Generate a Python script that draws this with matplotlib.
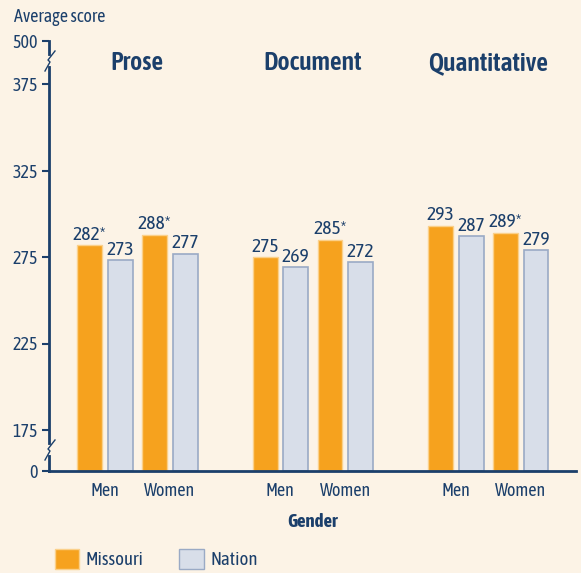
import numpy as np
import matplotlib
matplotlib.use("Agg")
import matplotlib.pyplot as plt
from matplotlib.patches import Patch
from matplotlib.lines import Line2D

# Data
subjects = ["Prose", "Document", "Quantitative"]
genders = ["Men", "Women"]
missouri = [[282, 288], [275, 285], [293, 289]]
nation = [[273, 277], [269, 272], [287, 279]]
missouri_labels = [["282*", "288*"], ["275", "285*"], ["293", "289*"]]
nation_labels = [["273", "277"], ["269", "272"], ["287", "279"]]
y_ticks = [0, 175, 225, 275, 325, 375, 500]

BG = "#FCF3E6"
NAVY = "#1B3F6B"
ORANGE = "#F6A21E"
ORANGE_EDGE = "#FBD08A"
GREY = "#D8DEE9"
GREY_EDGE = "#9AAAC5"

plt.rcParams.update({
    "font.family": ["Asap Condensed", "DejaVu Sans"],
    "text.color": NAVY,
    "axes.labelcolor": NAVY,
    "xtick.color": NAVY,
    "ytick.color": NAVY,
})

# broken y axis: piecewise linear scale
brk_data = [0, 175, 375, 500]
brk_pix = [0, 41, 387, 430]


def fwd(y):
    return np.interp(y, brk_data, brk_pix)


def inv(p):
    return np.interp(p, brk_pix, brk_data)


W, H = 581, 573
fig = plt.figure(figsize=(W / 100, H / 100), dpi=100, facecolor=BG)
ax = fig.add_axes([49 / W, (H - 471) / H, (576 - 49) / W, 430 / H])
ax.set_facecolor(BG)
ax.set_yscale("function", functions=(fwd, inv))
ax.set_ylim(0, 500)
ax.set_xlim(-0.504, 2.5)

pair_off = 0.185
bw = 0.142
bo = 0.087
xt, xl = [], []
for i, s in enumerate(subjects):
    for j, g in enumerate(genders):
        c = i + (-pair_off if j == 0 else pair_off)
        xt.append(c)
        xl.append(g)
        ax.bar(c - bo, missouri[i][j], bw, color=ORANGE, edgecolor=ORANGE_EDGE, linewidth=1)
        ax.bar(c + bo, nation[i][j], bw, color=GREY, edgecolor=GREY_EDGE, linewidth=1.2)
        ax.annotate(missouri_labels[i][j], (c - bo, missouri[i][j]), xytext=(0, 1),
                    textcoords="offset points", ha="center", va="bottom", fontsize=14)
        ax.annotate(nation_labels[i][j], (c + bo, nation[i][j]), xytext=(0, 1),
                    textcoords="offset points", ha="center", va="bottom", fontsize=14)
    ax.text(i, 1 - 22 / 430, s, transform=ax.get_xaxis_transform(), ha="center",
            va="center", fontsize=18.5, fontweight="semibold")

ax.set_xticks(xt)
ax.set_xticklabels(xl, fontsize=13)
ax.tick_params(axis="x", length=0, pad=8)
ax.set_yticks(y_ticks)
ax.set_yticklabels([str(t) for t in y_ticks], fontsize=13)
ax.tick_params(axis="y", length=5, width=1.5, direction="out", pad=3)
ax.minorticks_off()
for sp in ["top", "right"]:
    ax.spines[sp].set_visible(False)
for sp in ["left", "bottom"]:
    ax.spines[sp].set_color(NAVY)
    ax.spines[sp].set_linewidth(2)

ax.text(1, -51 / 430, "Gender", transform=ax.get_xaxis_transform(), ha="center",
        va="center", fontsize=13.5, fontweight="bold")
fig.text(14 / W, 1 - 17 / H, "Average score", ha="left", va="center", fontsize=13)


# axis break marks (figure pixel coords)
def brk(yc):
    px = [45, 50, 48, 55]
    py = [yc + 10, yc + 1, yc - 1, yc - 10]
    fig.add_artist(Line2D([49 / W, 49 / W], [1 - (yc - 3) / H, 1 - (yc + 3) / H],
                          color=BG, linewidth=3))
    fig.add_artist(Line2D([x / W for x in px], [1 - y / H for y in py],
                          color=NAVY, linewidth=1))


brk(61)
brk(450)

handles = [Patch(facecolor=ORANGE, edgecolor=ORANGE_EDGE, label="Missouri"),
           Patch(facecolor=GREY, edgecolor=GREY_EDGE, label="Nation")]
fig.legend(handles=handles, loc="center left", bbox_to_anchor=(38 / W, 1 - 559 / H),
           ncol=2, frameon=False, fontsize=13.5, handlelength=1.3, handleheight=1.3,
           handletextpad=0.35, columnspacing=1.9)

fig.savefig("out.png", dpi=100, facecolor=BG)
